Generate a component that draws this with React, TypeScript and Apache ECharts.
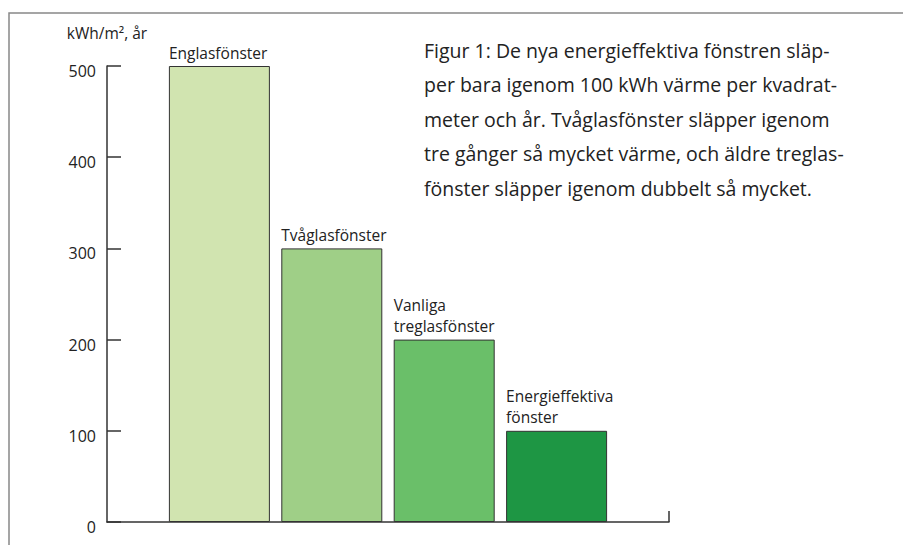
import React, { useEffect, useRef } from "react";
import * as echarts from "echarts";

const categories = ["", "Englasfönster", "Tvåglasfönster", "Vanliga\ntreglasfönster", "Energieffektiva\nfönster", ""];
const values: (number | null)[] = [null, 500, 300, 200, 100, null];
const barColors = ["", "#d1e4b0", "#9fcf87", "#6abf69", "#1e9644", ""];
const yTicks = [0, 100, 200, 300, 400, 500];
const axisTitle = "kWh/m², år";
const captionLines = [
  "Figur 1: De nya energieffektiva fönstren släp-",
  "per bara igenom 100 kWh värme per kvadrat-",
  "meter och år. Tvåglasfönster släpper igenom",
  "tre gånger så mycket värme, och äldre treglas-",
  "fönster släpper igenom dubbelt så mycket.",
];

const FONT = "Open Sans";

export default function App() {
  const ref = useRef<HTMLDivElement>(null);
  useEffect(() => {
    if (!ref.current) return;
    const chart = echarts.init(ref.current, undefined, { renderer: "svg" });
    chart.setOption({
      animation: false,
      backgroundColor: "#ffffff",
      textStyle: { fontFamily: FONT },
      grid: { left: 107, right: 234, top: 66, bottom: 23, containLabel: false },
      xAxis: {
        type: "category",
        data: categories,
        boundaryGap: false,
        axisLine: { show: true, lineStyle: { color: "#333", width: 1.5 } },
        axisTick: {
          show: true,
          inside: true,
          length: 11,
          interval: (index: number) => index === categories.length - 1,
          lineStyle: { color: "#333", width: 1.5 },
        },
        axisLabel: { show: false },
        splitLine: { show: false },
      },
      yAxis: {
        type: "value",
        min: yTicks[0],
        max: yTicks[yTicks.length - 1],
        interval: 100,
        name: axisTitle,
        nameLocation: "end",
        nameGap: 25,
        nameTextStyle: { color: "#222", fontSize: 15.5, fontFamily: FONT, align: "center" },
        axisLine: { show: true, lineStyle: { color: "#333", width: 1.5 } },
        axisTick: { show: true, inside: true, length: 14, lineStyle: { color: "#333", width: 1.5 } },
        axisLabel: {
          color: "#222",
          fontSize: 16,
          fontFamily: FONT,
          margin: 11,
          verticalAlign: "top",
          lineHeight: 10,
        },
        splitLine: { show: false },
      },
      series: [
        {
          type: "bar",
          barWidth: 101,
          data: values.map((v, i) =>
            v == null
              ? null
              : {
                  value: v,
                  itemStyle: { color: barColors[i], borderColor: "#333", borderWidth: 1 },
                }
          ),
          label: {
            show: true,
            position: [0, -3],
            align: "left",
            verticalAlign: "bottom",
            formatter: (p: any) => categories[p.dataIndex],
            color: "#222",
            fontSize: 15.5,
            lineHeight: 21,
            fontFamily: FONT,
          },
        },
      ],
      graphic: [
        {
          type: "polyline",
          shape: { points: [[9, 545], [9, 13], [903, 13]] },
          style: { stroke: "#888", lineWidth: 1.5, fill: null },
          silent: true,
        },
        {
          type: "text",
          left: 424,
          top: 33,
          style: {
            text: captionLines.join("\n"),
            fontSize: 19.5,
            lineHeight: 34.5,
            fontFamily: FONT,
            fill: "#222",
          },
        },
      ],
    });
    return () => chart.dispose();
  }, []);
  return (
    <div
      ref={ref}
      style={{ position: "fixed", left: 0, top: 0, width: 903, height: 545 }}
    />
  );
}
